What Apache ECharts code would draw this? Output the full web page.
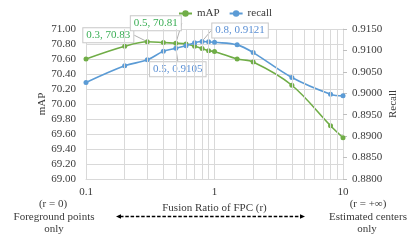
<!DOCTYPE html>
<html><head><meta charset="utf-8">
<script src="https://cdn.jsdelivr.net/npm/echarts@6/dist/echarts.min.js"></script>
<style>html,body{margin:0;padding:0;background:#fff}#c{width:416px;height:242px}</style>
</head><body><div id="c"></div>
<script>
var ratios = [0.1, 0.2, 0.3, 0.4, 0.5, 0.6, 0.7, 0.8, 0.9, 1, 1.5, 2, 4, 8, 10];
var mAP = [70.60, 70.77, 70.83, 70.82, 70.81, 70.80, 70.77, 70.74, 70.71, 70.70, 70.60, 70.56, 70.25, 69.71, 69.55];
var recall = [0.9025, 0.9064, 0.9078, 0.9098, 0.9105, 0.9111, 0.9118, 0.9121, 0.9120, 0.9119, 0.9113, 0.9095, 0.9037, 0.8998, 0.8994];
var minorGrid = [0.2, 0.3, 0.4, 0.5, 0.6, 0.7, 0.8, 0.9, 2, 3, 4, 5, 6, 7, 8, 9];
var mapAnnot = {2: '0.3, 70.83', 4: '0.5, 70.81'};
var recAnnot = {4: '0.5, 0.9105', 7: '0.8, 0.9121'};
var FONT = '"Liberation Serif", "Times New Roman", "DejaVu Serif", serif';
var TXT = '#3a3a3a';
var GREEN = '#70AD47', BLUE = '#5B9BD5';

function build(vals, annot, color) {
  return ratios.map(function (r, i) {
    if (annot[i]) {
      return {value: [r, vals[i]], label: {show: true, formatter: annot[i], color: color}};
    }
    return [r, vals[i]];
  });
}
var labelBase = {
  show: false, fontFamily: FONT, fontSize: 11, lineHeight: 12,
  backgroundColor: '#fff', borderColor: '#c8c8c8', borderWidth: 1, padding: [1, 3]
};
function layoutFn(offsets) {
  return function (p) {
    var o = offsets[p.dataIndex];
    if (!o) return {};
    var cx = p.rect.x + p.rect.width / 2, cy = p.rect.y + p.rect.height / 2;
    return {x: cx + o[0], y: cy + o[1], align: 'center', verticalAlign: 'middle'};
  };
}
function txt(s, x, y) {
  return {type: 'text', x: x, y: y, style: {text: s, fontFamily: FONT, fontSize: 11, fill: TXT, align: 'center', verticalAlign: 'middle', textAlign: 'center', textVerticalAlign: 'middle'}};
}
var chart = echarts.init(document.getElementById('c'));
chart.setOption({
  animation: false,
  textStyle: {fontFamily: FONT},
  legend: {
    left: 173, top: 3, itemWidth: 13, itemHeight: 8, itemGap: 9,
    textStyle: {fontFamily: FONT, fontSize: 11, color: TXT},
    data: ['mAP', 'recall']
  },
  grid: {left: 86, right: 73, top: 29, bottom: 63},
  xAxis: {
    type: 'log', logBase: 10, min: 0.1, max: 10,
    name: 'Fusion Ratio of FPC (r)', nameLocation: 'middle', nameGap: 19,
    nameTextStyle: {fontFamily: FONT, fontSize: 11, color: TXT},
    axisLine: {lineStyle: {color: '#d9d9d9'}},
    axisTick: {show: false},
    axisLabel: {fontFamily: FONT, fontSize: 11, color: TXT, margin: 8,
      formatter: function (v) { return String(+v.toPrecision(3)); }},
    splitLine: {show: true, lineStyle: {color: '#d9d9d9'}}
  },
  yAxis: [{
    type: 'value', min: 69, max: 71, interval: 0.2,
    name: 'mAP', nameLocation: 'middle', nameGap: 38, nameRotate: 90, nameMoveOverlap: false,
    nameTextStyle: {fontFamily: FONT, fontSize: 11, color: TXT},
    axisLine: {show: false}, axisTick: {show: false},
    axisLabel: {fontFamily: FONT, fontSize: 11, color: TXT, margin: 10,
      formatter: function (v) { return v.toFixed(2); }},
    splitLine: {show: true, lineStyle: {color: '#d9d9d9'}}
  }, {
    type: 'value', min: 0.88, max: 0.915, interval: 0.005, position: 'right',
    name: 'Recall', nameLocation: 'middle', nameGap: 45, nameRotate: 90, nameMoveOverlap: false,
    nameTextStyle: {fontFamily: FONT, fontSize: 11, color: TXT},
    axisLine: {show: true, lineStyle: {color: '#d9d9d9'}},
    axisTick: {show: true, length: 4, lineStyle: {color: '#bfbfbf'}},
    axisLabel: {fontFamily: FONT, fontSize: 11, color: TXT, margin: 9,
      formatter: function (v) { return v.toFixed(4); }},
    splitLine: {show: false}
  }],
  series: [{
    name: 'grid', type: 'line', data: [], silent: true, z: 0,
    markLine: {
      silent: true, symbol: 'none', label: {show: false},
      lineStyle: {color: '#d9d9d9', width: 1, type: 'solid'},
      data: minorGrid.map(function (v) { return {xAxis: v}; })
    }
  }, {
    name: 'mAP', type: 'line', yAxisIndex: 0, smooth: 0.35,
    symbol: 'circle', symbolSize: 5, z: 3,
    lineStyle: {color: GREEN, width: 1.6}, itemStyle: {color: GREEN},
    label: labelBase,
    labelLine: {show: true, lineStyle: {color: '#b0b0b0', width: 1}},
    labelLayout: layoutFn({2: [-39, -6.5], 4: [-20, -20]}),
    data: build(mAP, mapAnnot, '#3aae55')
  }, {
    name: 'recall', type: 'line', yAxisIndex: 1, smooth: 0.35,
    symbol: 'circle', symbolSize: 5, z: 4,
    lineStyle: {color: BLUE, width: 1.6}, itemStyle: {color: BLUE},
    label: labelBase,
    labelLine: {show: true, lineStyle: {color: '#b0b0b0', width: 1}},
    labelLayout: layoutFn({4: [2, 21], 7: [38, -11]}),
    data: build(recall, recAnnot, '#5a8fd4')
  }],
  graphic: [
    txt('(r = 0)', 53, 204),
    txt('Foreground points', 54, 217),
    txt('only', 54, 229),
    txt('(r = +\u221E)', 368, 204),
    txt('Estimated centers', 368, 217),
    txt('only', 367, 229),
    {type: 'line', shape: {x1: 120, y1: 216.5, x2: 301, y2: 216.5}, style: {stroke: '#000', lineWidth: 1.3, lineDash: [3.5, 1.8]}},
    {type: 'polygon', shape: {points: [[116, 216.5], [121, 214.3], [121, 218.7]]}, style: {fill: '#000'}},
    {type: 'polygon', shape: {points: [[305, 216.5], [300, 214.3], [300, 218.7]]}, style: {fill: '#000'}}
  ]
});
</script></body></html>
